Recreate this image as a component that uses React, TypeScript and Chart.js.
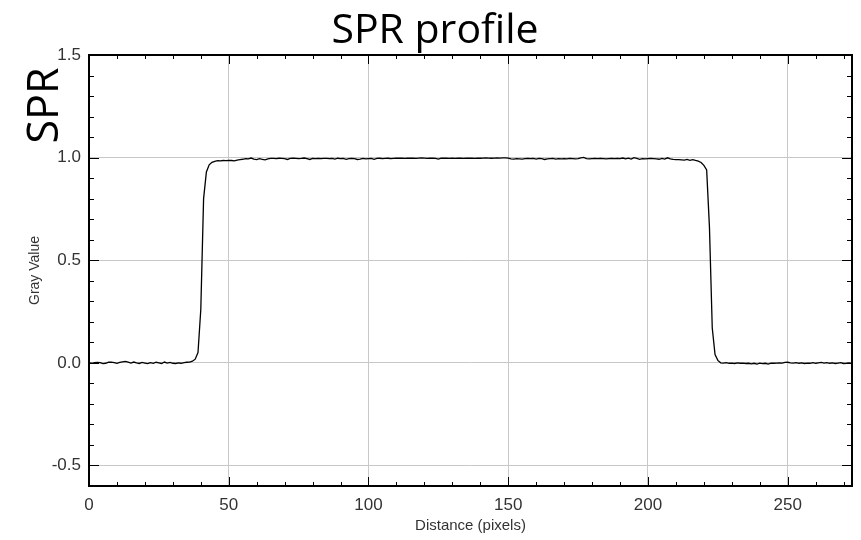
import { useEffect, useRef } from 'react';
import { Chart, registerables } from 'chart.js';

Chart.register(...registerables);

const TITLE = 'SPR profile';
const SIDE_LABEL = 'SPR';
const X_TITLE = 'Distance (pixels)';
const Y_TITLE = 'Gray Value';

const X_MIN = 0;
const X_MAX = 273;
const Y_MIN = -0.6;
const Y_MAX = 1.5;

const X_TICKS = [0, 50, 100, 150, 200, 250];
const X_TICK_LABELS = ['0', '50', '100', '150', '200', '250'];
const Y_TICKS = [-0.5, 0, 0.5, 1.0, 1.5];
const Y_TICK_LABELS = ['-0.5', '0.0', '0.5', '1.0', '1.5'];
const X_MINOR_TICKS = [0, 10, 20, 30, 40, 50, 60, 70, 80, 90, 100, 110, 120, 130, 140, 150, 160, 170, 180, 190, 200, 210, 220, 230, 240, 250, 260, 270];
const Y_MINOR_TICKS = [-0.6, -0.5, -0.4, -0.3, -0.2, -0.1, 0, 0.1, 0.2, 0.3, 0.4, 0.5, 0.6, 0.7, 0.8, 0.9, 1.0, 1.1, 1.2, 1.3, 1.4, 1.5];

// Gray value samples, one per pixel of distance (0..273)
const BASELINE_LEFT = [
  0.000, -0.002, 0.001, 0.002, 0.001, -0.004, -0.002, 0.003, 0.004, 0.001,
  -0.002, 0.002, 0.005, 0.007, 0.003, -0.001, 0.004, 0.000, -0.003, 0.002,
  -0.001, -0.004, 0.001, -0.002, 0.003, 0.000, -0.003, 0.004, -0.001, 0.002,
  -0.002, -0.003, 0.000, -0.002, 0.001, 0.003, 0.004, 0.008,
];
const RISING_EDGE = [0.018, 0.05, 0.26, 0.80, 0.93, 0.965, 0.977, 0.982, 0.985];
const PLATEAU = [
  0.984, 0.986, 0.985, 0.987, 0.986, 0.984, 0.988, 0.990, 0.992, 0.995,
  0.994, 0.998, 0.993, 0.990, 0.995, 0.992, 0.989, 0.994, 0.996, 0.996,
  0.995, 0.997, 0.996, 0.995, 0.991, 0.996, 0.997, 0.996, 0.995, 0.996,
  0.998, 0.995, 0.991, 0.996, 0.995, 0.996, 0.995, 0.996, 0.996, 0.995,
  0.996, 0.993, 0.997, 0.995, 0.996, 0.992, 0.995, 0.996, 0.995, 0.991,
  0.993, 0.996, 0.994, 0.995, 0.996, 0.992, 0.996, 0.997, 0.995, 0.996,
  0.997, 0.995, 0.996, 0.997, 0.998, 0.997, 0.996, 0.997, 0.998, 0.997,
  0.996, 0.998, 0.999, 0.998, 0.996, 0.997, 0.998, 0.996, 0.993, 0.997,
  0.998, 0.997, 0.996, 0.997, 0.996, 0.997, 0.998, 0.996, 0.997, 0.998,
  0.997, 0.996, 0.998, 0.997, 0.998, 0.999, 0.998, 0.997, 0.998, 0.999,
  0.998, 0.999, 0.999, 0.998, 0.994, 0.993, 0.995, 0.994, 0.993, 0.995,
  0.996, 0.995, 0.996, 0.993, 0.996, 0.995, 0.991, 0.994, 0.995, 0.996,
  0.993, 0.995, 0.994, 0.995, 0.994, 0.996, 0.995, 0.994, 0.995, 0.999,
  1.001, 0.995, 0.994, 0.995, 0.996, 0.995, 0.996, 0.995, 0.994, 0.995,
  0.996, 0.995, 0.996, 0.995, 0.998, 0.994, 0.997, 0.993, 1.000, 0.996,
  0.992, 0.995, 0.994, 0.995, 0.996, 0.995, 0.994, 0.992, 0.996, 0.993,
  0.999, 0.994, 0.991, 0.990, 0.990, 0.989, 0.988, 0.991, 0.987, 0.990,
  0.986,
];
const FALLING_EDGE = [0.983, 0.976, 0.962, 0.94, 0.66, 0.17, 0.04, 0.012, 0.000];
const BASELINE_RIGHT = [
  -0.001, 0.001, -0.002, -0.001, -0.003, 0.000, -0.002, -0.001, -0.003, -0.002,
  -0.005, -0.002, -0.006, -0.001, -0.004, -0.002, -0.006, -0.001, -0.002, -0.001,
  0.000, -0.001, 0.002, 0.003, 0.000, -0.001, 0.001, -0.002, 0.000, -0.003,
  -0.001, -0.002, 0.001, -0.002, 0.000, 0.002, -0.001, 0.001, -0.002, 0.000,
  -0.003, -0.001, 0.001, -0.003, -0.002, 0.000, -0.003,
];

const GRAY_VALUES = [...BASELINE_LEFT, ...RISING_EDGE, ...PLATEAU, ...FALLING_EDGE, ...BASELINE_RIGHT];

const framePlugin = {
  id: 'imagejFrame',
  afterDatasetsDraw(chart: any) {
    const { ctx, chartArea: a, scales } = chart;
    const xs = scales.x;
    const ys = scales.y;
    ctx.save();
    ctx.strokeStyle = '#000';
    ctx.lineWidth = 1;
    const seg = (x1: number, y1: number, x2: number, y2: number) => {
      ctx.beginPath();
      ctx.moveTo(x1, y1);
      ctx.lineTo(x2, y2);
      ctx.stroke();
    };
    X_MINOR_TICKS.forEach((v) => {
      const px = Math.round(xs.getPixelForValue(v)) + 0.5;
      const len = v % 50 === 0 ? 9 : 4;
      seg(px, a.bottom, px, a.bottom - len);
      seg(px, a.top, px, a.top + len);
    });
    Y_MINOR_TICKS.forEach((v) => {
      const py = Math.round(ys.getPixelForValue(v)) + 0.5;
      const major = Math.abs(v * 2 - Math.round(v * 2)) < 1e-6;
      const len = major ? 10 : 5;
      seg(a.left, py, a.left + len, py);
      seg(a.right, py, a.right - len, py);
    });
    ctx.lineWidth = 2;
    ctx.strokeRect(a.left, a.top, a.right - a.left, a.bottom - a.top);

    ctx.fillStyle = '#000';
    ctx.textAlign = 'center';
    ctx.textBaseline = 'alphabetic';
    ctx.font = '41px "Open Sans"';
    ctx.fillText(TITLE, 435, 43);
    ctx.translate(58, 105.5);
    ctx.rotate(-Math.PI / 2);
    ctx.font = '43px "Open Sans"';
    ctx.fillText(SIDE_LABEL, 0, 0);
    ctx.restore();
  },
};

export default function App() {
  const canvasRef = useRef<HTMLCanvasElement | null>(null);

  useEffect(() => {
    if (!canvasRef.current) return;
    const points = GRAY_VALUES.map((v, i) => ({ x: i, y: v }));
    const tickFont = { family: '"Liberation Sans", Arial, sans-serif', size: 17 };
    const chart = new Chart(canvasRef.current, {
      type: 'line',
      data: {
        datasets: [
          {
            label: Y_TITLE,
            data: points,
            borderColor: '#000',
            borderWidth: 1.3,
            pointRadius: 0,
            tension: 0,
            fill: false,
          },
        ],
      },
      options: {
        animation: false,
        responsive: false,
        devicePixelRatio: 1,
        layout: { padding: { top: 55, right: 9, left: 0, bottom: 0 } },
        plugins: { legend: { display: false }, tooltip: { enabled: false }, title: { display: false } },
        scales: {
          x: {
            type: 'linear',
            min: X_MIN,
            max: X_MAX,
            afterBuildTicks: (scale: any) => {
              scale.ticks = X_TICKS.map((v) => ({ value: v }));
            },
            afterFit: (scale: any) => {
              scale.height = 54;
            },
            grid: { color: '#c8c8c8', lineWidth: 1, drawTicks: false },
            border: { display: false },
            ticks: {
              padding: 9,
              color: '#333',
              font: tickFont,
              maxRotation: 0,
              autoSkip: false,
              callback: (_v: any, i: number) => X_TICK_LABELS[i],
            },
            title: {
              display: true,
              text: X_TITLE,
              color: '#333',
              font: { family: '"Liberation Sans", Arial, sans-serif', size: 15 },
              padding: { top: 0, bottom: 5 },
            },
          },
          y: {
            type: 'linear',
            min: Y_MIN,
            max: Y_MAX,
            afterBuildTicks: (scale: any) => {
              scale.ticks = Y_TICKS.map((v) => ({ value: v }));
            },
            afterFit: (scale: any) => {
              scale.width = 89;
            },
            grid: { color: '#c8c8c8', lineWidth: 1, drawTicks: false },
            border: { display: false },
            ticks: {
              padding: 8,
              color: '#333',
              font: tickFont,
              autoSkip: false,
              callback: (_v: any, i: number) => Y_TICK_LABELS[i],
            },
            title: {
              display: true,
              text: Y_TITLE,
              color: '#333',
              font: { family: '"Liberation Sans", Arial, sans-serif', size: 14 },
              padding: { top: 27, bottom: 0 },
            },
          },
        },
      },
      plugins: [framePlugin],
    });
    return () => chart.destroy();
  }, []);

  return (
    <div style={{ position: 'absolute', left: 0, top: 0, width: 861, height: 540 }}>
      <canvas ref={canvasRef} width={861} height={540} />
    </div>
  );
}
